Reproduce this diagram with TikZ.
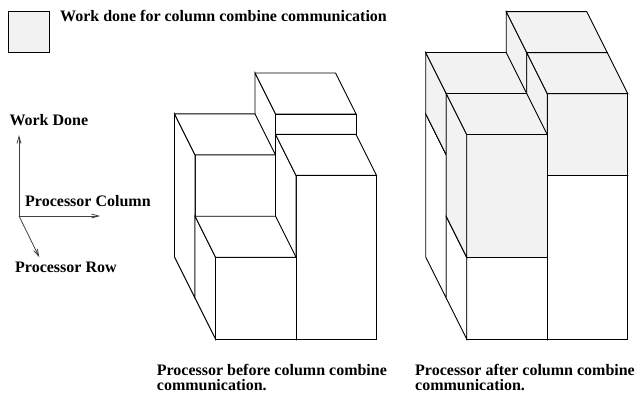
\documentclass[tikz,border=0pt]{standalone}
\usepackage{fontspec}
\setmainfont{Liberation Serif}
\usetikzlibrary{arrows.meta}

% one block of a processor column: {col}{row}{from height}{to height}{style}
\newcommand{\blk}[5]{%
  \draw[#5] (4*#1,#3,#2) -- (4*#1+4,#3,#2) -- (4*#1+4,#4,#2) -- (4*#1,#4,#2) -- cycle;
  \draw[#5] (4*#1,#3,#2) -- (4*#1,#3,#2+1) -- (4*#1,#4,#2+1) -- (4*#1,#4,#2) -- cycle;
  \draw[#5] (4*#1,#4,#2) -- (4*#1+4,#4,#2) -- (4*#1+4,#4,#2+1) -- (4*#1,#4,#2+1) -- cycle;}

\begin{document}
\begin{tikzpicture}[x=1pt,y=-1pt,face/.style={draw,fill=white,line width=0.9pt},comm/.style={face,fill=black!5},lbl/.style={font=\bfseries\fontsize{16}{15}\selectfont,inner sep=0pt,anchor=base west},axis/.style={draw=black!75,line width=0.8pt,-{Straight Barb[length=7pt,width=4pt]}}]
\useasboundingbox (0,0) rectangle (637,394);
\node[comm,minimum size=41pt,inner sep=0pt] (key) at (28.8,32) {};
\node[lbl] (keytxt) at (60,21.7) {Work done for column combine communication};
% axes
\coordinate (o) at (19,216);
\coordinate (oz) at (19,135);
\coordinate (ox) at (100,216);
\coordinate (oy) at (39.3,257.3);
\draw[axis] (o) -- (oz);\draw[axis] (o) -- (ox);\draw[axis] (o) -- (oy);
\node[lbl] (work) at (9.3,125.7) {Work Done};
\node[lbl] (pcol) at (25,206) {Processor Column};
\node[lbl] (prow) at (15,272.7) {Processor Row};
% before
\begin{scope}[shift={(215.5,339)},x={(20.125pt,0pt)},y={(0pt,20.45pt)},z={(-20.5pt,41pt)}]
\foreach \c/\r/\h in {1/1/9,0/1/7,1/0/8,0/0/4} {\blk{\c}{\r}{0}{\h}{face}}
\end{scope}
% after
\begin{scope}[shift={(466.7,339)},x={(20.125pt,0pt)},y={(0pt,20.45pt)},z={(-20.5pt,41pt)}]
\foreach \c/\r/\h/\t in {1/1/9/12,0/1/7/10,1/0/8/12,0/0/4/10} {\blk{\c}{\r}{0}{\h}{face}\blk{\c}{\r}{\h}{\t}{comm}}
\end{scope}
\node[lbl,align=left] (before) at (156.7,390.5) {Processor before column combine\\communication.};
\node[lbl,align=left] (after) at (415,390.5) {Processor after column combine\\communication.};
\end{tikzpicture}
\end{document}
